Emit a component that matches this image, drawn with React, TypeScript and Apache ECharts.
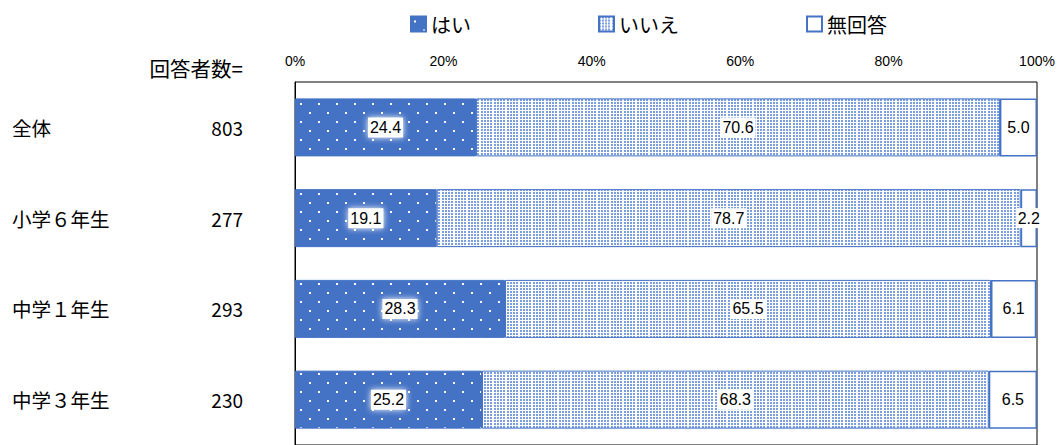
import React, { useEffect, useRef } from 'react';
import * as echarts from 'echarts';

const categories = ['全体', '小学６年生', '中学１年生', '中学３年生'];
const respondents = [803, 277, 293, 230];
const yesValues = [24.4, 19.1, 28.3, 25.2];
const noValues = [70.6, 78.7, 65.5, 68.3];
const noAnswerValues = [5.0, 2.2, 6.1, 6.5];
const seriesNames = ['はい', 'いいえ', '無回答'];
const xTickStep = 20;

const BLUE = '#4472C4';

function makeYesPattern(): HTMLCanvasElement {
  const c = document.createElement('canvas');
  c.width = 18;
  c.height = 18;
  const ctx = c.getContext('2d')!;
  ctx.fillStyle = BLUE;
  ctx.fillRect(0, 0, 18, 18);
  ctx.fillStyle = '#ffffff';
  ctx.fillRect(3, 4, 2, 2);
  ctx.fillRect(12, 13, 2, 2);
  return c;
}

function makeNoPattern(): HTMLCanvasElement {
  const c = document.createElement('canvas');
  c.width = 13;
  c.height = 3;
  const ctx = c.getContext('2d')!;
  ctx.fillStyle = '#ffffff';
  ctx.fillRect(0, 0, 13, 3);
  ctx.fillStyle = '#7b9edf';
  for (const x of [0, 3, 6, 9]) ctx.fillRect(x, 0, 2, 2);
  return c;
}

const labelBase = {
  show: true,
  position: 'inside' as const,
  color: '#000',
  fontSize: 16,
  fontFamily: 'Liberation Sans, Arial, sans-serif',
  backgroundColor: '#fff',
  padding: [2, 2],
  formatter: (p: any) => Number(p.value).toFixed(1),
};

export default function App() {
  const ref = useRef<HTMLDivElement>(null);

  useEffect(() => {
    if (!ref.current) return;
    const chart = echarts.init(ref.current, null, { renderer: 'svg' });
    const yesPat = makeYesPattern();
    const noPat = makeNoPattern();

    chart.setOption({
      animation: false,
      textStyle: { fontFamily: '"Noto Sans CJK JP", sans-serif' },
      legend: {
        data: seriesNames,
        left: 405,
        top: 9,
        itemWidth: 15,
        itemHeight: 15,
        itemGap: 127,
        icon: 'rect',
        textStyle: { fontSize: 20, color: '#000', fontFamily: '"Noto Sans CJK JP", sans-serif' },
      },
      grid: {
        left: 295,
        right: 25,
        top: 82,
        height: 364,
        show: true,
        borderColor: '#000',
        borderWidth: 1,
        backgroundColor: 'transparent',
      },
      xAxis: {
        type: 'value',
        position: 'top',
        min: 0,
        max: 100,
        interval: xTickStep,
        axisLine: { show: false },
        axisTick: { show: false },
        splitLine: { show: false },
        axisLabel: {
          formatter: '{value}%',
          fontSize: 14,
          color: '#000',
          margin: 14,
          fontFamily: 'Liberation Sans, Arial, sans-serif',
        },
      },
      yAxis: {
        type: 'category',
        data: categories,
        inverse: true,
        axisLine: { show: true, lineStyle: { color: '#000', width: 1 } },
        axisTick: { show: false },
        axisLabel: {
          align: 'left',
          margin: 283,
          formatter: (v: string, i: number) => `{n|${v}}{c|${respondents[i]}}`,
          rich: {
            n: { width: 171, fontSize: 19.5, color: '#000', align: 'left', fontFamily: '"Noto Sans CJK JP", sans-serif' },
            c: { width: 60, fontSize: 19, color: '#000', align: 'right', fontFamily: '"Noto Sans CJK JP", sans-serif' },
          },
        },
      },
      graphic: [
        {
          type: 'text',
          x: 243,
          y: 68,
          style: {
            text: '回答者数=',
            fontSize: 20.5,
            fill: '#000',
            align: 'right',
            verticalAlign: 'middle',
            fontFamily: '"Noto Sans CJK JP", sans-serif',
          },
        },
      ],
      series: [
        {
          name: seriesNames[0],
          type: 'bar',
          stack: 'total',
          barWidth: 58,
          data: yesValues,
          itemStyle: {
            color: { image: yesPat, repeat: 'repeat' },
            borderColor: BLUE,
            borderWidth: 1,
          },
          label: { ...labelBase, shadowColor: '#fff', shadowBlur: 6 },
        },
        {
          name: seriesNames[1],
          type: 'bar',
          stack: 'total',
          barWidth: 58,
          data: noValues,
          itemStyle: {
            color: { image: noPat, repeat: 'repeat' },
            borderColor: BLUE,
            borderWidth: 1,
          },
          label: labelBase,
        },
        {
          name: seriesNames[2],
          type: 'bar',
          stack: 'total',
          barWidth: 58,
          data: noAnswerValues,
          itemStyle: {
            color: '#ffffff',
            borderColor: BLUE,
            borderWidth: 1.5,
          },
          label: labelBase,
        },
      ],
    });

    return () => chart.dispose();
  }, []);

  return (
    <div
      ref={ref}
      style={{ position: 'absolute', left: 0, top: 0, width: 1062, height: 445, background: '#fff' }}
    />
  );
}
